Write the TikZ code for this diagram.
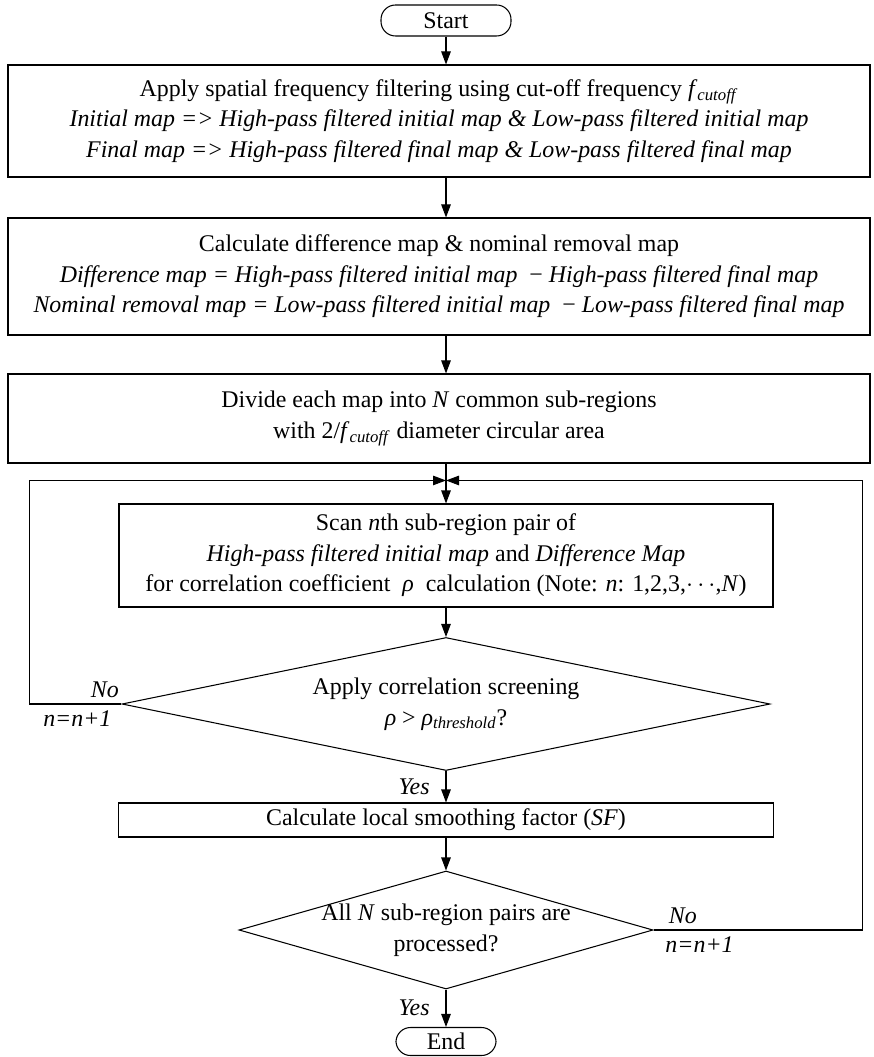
\documentclass[tikz,border=0pt]{standalone}
\usepackage{fontspec}
\setmainfont{Liberation Serif}
\usetikzlibrary{arrows.meta}
\usetikzlibrary{calc}
\usetikzlibrary{positioning}
\usetikzlibrary{shapes.geometric}

\begin{document}
\begin{tikzpicture}[->,>={Triangle[length=2.6mm,width=1.9mm]},auto,
  line width=0.6pt,font=\fontsize{13.6}{17.4}\selectfont,
  main node/.style={rectangle,draw,align=center,inner sep=2pt},
  term node/.style={rectangle,rounded corners=2.9mm,draw,minimum width=2.6cm,minimum height=0.62cm,inner sep=1pt},
  test node/.style={diamond,draw,align=center,inner xsep=-0.5cm,inner ysep=0pt}]

  \useasboundingbox (0,0) rectangle (17.46,-21.14);

  \node[term node] (start) at (8.92,-0.41) {Start};
  \node[main node,minimum width=17.24cm,minimum height=2.24cm] (box1) [below of=start,node distance=2.01cm,xshift=-0.14cm]
    {Apply spatial frequency filtering using cut-off frequency \textit{f}\textsubscript{\textit{cutoff}}\\
     \textit{Initial map => High-pass filtered initial map \& Low-pass filtered initial map}\\
     \textit{Final map => High-pass filtered final map \& Low-pass filtered final map}};
  \node[main node,minimum width=17.24cm,minimum height=2.34cm] (box2) [below of=box1,node distance=3.11cm]
    {Calculate difference map \& nominal removal map\\
     \textit{Difference map = High-pass filtered initial map}\ \ −\ \textit{High-pass filtered final map}\\
     \textit{Nominal removal map = Low-pass filtered initial map}\ \ −\ \textit{Low-pass filtered final map}};
  \node[main node,minimum width=17.24cm,minimum height=1.78cm] (box3) [below of=box2,node distance=2.84cm]
    {Divide each map into \textit{N} common sub-regions\\
     with 2/\textit{f}\textsubscript{\textit{cutoff}} diameter circular area};
  \node[main node,minimum width=13.08cm,minimum height=2.06cm] (box4) [below of=box3,node distance=2.74cm,xshift=0.14cm]
    {Scan \textit{n}th sub-region pair of\\
     \textit{High-pass filtered initial map} and \textit{Difference Map}\\
     for correlation coefficient\ \ \textit{ρ}\ \ calculation (Note: \textit{n}: 1,2,3,$\cdots$,\textit{N})};
  \node[test node,aspect=4.9,minimum width=12.96cm,minimum height=2.66cm] (d1) [below of=box4,node distance=2.97cm]
    {Apply correlation screening\\ \textit{ρ} > \textit{ρ}\textsubscript{\textit{threshold}}?};
  \node[main node,minimum width=13.1cm,minimum height=0.68cm] (box5) [below of=d1,node distance=2.32cm]
    {Calculate local smoothing factor (\textit{SF})};
  \node[test node,aspect=3.5,minimum width=8.28cm,minimum height=2.36cm] (d2) [below of=box5,node distance=2.2cm]
    {All \textit{N} sub-region pairs are\\ processed?};
  \node[term node,minimum width=2.0cm,minimum height=0.56cm] (end) [below of=d2,node distance=2.23cm] {End};

  \coordinate (join) at ($(box4.north)+(0,0.46)$);
  \coordinate (lft) at ($(d1.west)+(-1.84,0)$);
  \coordinate (rgt) at ($(d2.east)+(4.18,0)$);

  \draw (start) -- (start |- box1.north);
  \draw (start |- box1.south) -- (start |- box2.north);
  \draw (start |- box2.south) -- (start |- box3.north);
  \draw (start |- box3.south) -- (box4);
  \draw (box4) -- (d1);
  \draw (d1) -- node[left,xshift=-0.2cm] {\textit{Yes}} (box5);
  \draw (box5) -- (d2);
  \draw (d2) -- node[left,xshift=-0.2cm] {\textit{Yes}} (end);

  % loops back to the next sub-region
  \draw (d1.west) -- node[pos=0.18,above] {\textit{No}} node[pos=0.48,below] {\textit{n=n+1}} (lft) |- (join);
  \draw (d2.east) -- node[pos=0.14,above] {\textit{No}} node[pos=0.22,below] {\textit{n=n+1}} (rgt) |- (join);
\end{tikzpicture}
\end{document}
